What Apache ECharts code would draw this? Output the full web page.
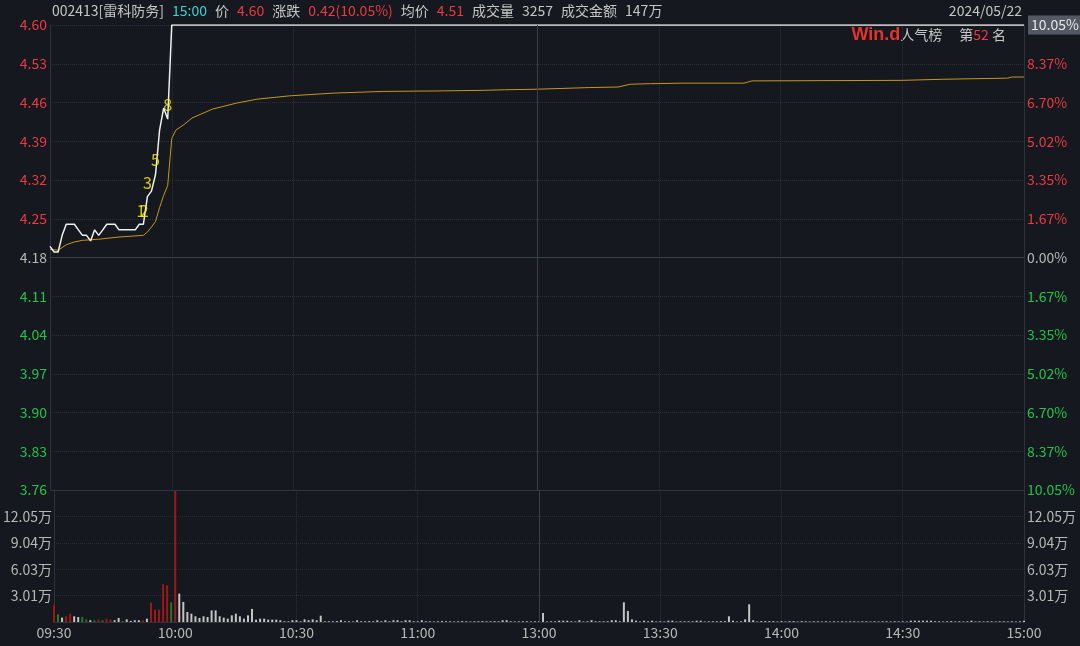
<!DOCTYPE html>
<html><head><meta charset="utf-8">
<script src="https://cdn.jsdelivr.net/npm/echarts@6/dist/echarts.min.js"></script>
<style>html,body{margin:0;padding:0;background:#15181e;}#c{width:1080px;height:646px;}</style>
</head><body><div id="c"></div>
<script>
// ---------- data ----------
const prevClose = 4.18;
const priceStep = 0.07;
const timeLabels = ['09:30','10:00','10:30','11:00','13:00','13:30','14:00','14:30','15:00'];
const priceTicks = ['4.60','4.53','4.46','4.39','4.32','4.25','4.18','4.11','4.04','3.97','3.90','3.83','3.76'];
const pctTicks = ['','8.37%','6.70%','5.02%','3.35%','1.67%','0.00%','1.67%','3.35%','5.02%','6.70%','8.37%','10.05%'];
const volTicks = ['','3.01万','6.03万','9.04万','12.05万',''];
const volMax = 15.06, volInterval = 3.012;
// minute index, price
const pricePts = [[0,4.20],[1,4.19],[2,4.19],[3,4.22],[4,4.24],[5,4.24],[6,4.24],[7,4.23],[8,4.22],[9,4.22],
 [10,4.21],[11,4.23],[12,4.22],[13,4.23],[14,4.24],[15,4.24],[16,4.24],[17,4.23],[18,4.23],[19,4.23],
 [20,4.23],[21,4.23],[22,4.24],[23,4.24],[24,4.29],[25,4.30],[26,4.33],[27,4.41],[28,4.45],[29,4.43],
 [30,4.60],[240,4.60]];
// minute index, average price
const avgPts = [[0,4.195],[2,4.193],[4,4.203],[6,4.208],[8,4.211],[12,4.213],[17,4.217],[23,4.220],[24,4.226],
 [25,4.235],[26,4.245],[27,4.270],[28,4.292],[29,4.310],[30,4.395],[31,4.410],[33,4.420],[35,4.432],[40,4.448],
 [46,4.459],[51,4.466],[59,4.472],[70,4.477],[82,4.480],[97,4.481],[107,4.482],[112,4.483],[120,4.484],
 [133,4.487],[140,4.488],[143,4.493],[148,4.494],[156,4.495],[171,4.495],[173,4.499],[210,4.500],[220,4.502],
 [236,4.504],[237,4.506],[240,4.506]];
// volume per minute (万)
const volumes = [
 1.91,0.88,0.50,0.65,0.95,0.65,0.57,0.57,0.30,0.20,
 0.20,0.30,0.20,0.38,0.30,0.20,0.46,0.12,0.30,0.12,
 0.20,0.20,0.20,0.38,2.21,1.41,1.41,4.31,4.20,2.25,
 15.00,3.24,2.29,1.14,0.95,0.65,0.46,0.65,0.57,1.33,
 1.33,0.65,0.50,0.38,0.76,0.95,0.65,0.38,0.76,1.49,
 0.27,0.38,0.38,0.27,0.27,0.27,0.20,0.08,0.08,0.20,
 0.20,0.08,0.30,0.20,0.30,0.20,0.72,0.08,0.08,0.08,
 0.10,0.20,0.08,0.08,0.06,0.20,0.08,0.08,0.10,0.08,
 0.20,0.08,0.20,0.08,0.20,0.20,0.08,0.20,0.20,0.08,
 0.08,0.20,0.08,0.08,0.06,0.08,0.10,0.08,0.08,0.06,
 0.08,0.10,0.08,0.06,0.08,0.08,0.10,0.08,0.08,0.10,
 0.08,0.20,0.20,0.08,0.06,0.08,0.08,0.08,0.06,0.08,
 0.08,1.03,0.06,0.08,0.08,0.15,0.15,0.15,0.08,0.06,
 0.20,0.06,0.08,0.20,0.08,0.08,0.08,0.08,0.20,0.20,
 0.08,2.25,1.26,0.30,0.15,0.06,0.15,0.08,0.15,0.06,
 0.08,0.06,0.15,0.15,0.06,0.08,0.08,0.08,0.08,0.15,
 0.15,0.06,0.08,0.08,0.08,0.10,0.10,0.65,0.15,0.06,
 0.08,0.30,2.02,0.20,0.06,0.10,0.10,0.10,0.10,0.06,
 0.10,0.06,0.10,0.10,0.06,0.10,0.08,0.06,0.08,0.08,
 0.06,0.08,0.06,0.08,0.06,0.08,0.06,0.08,0.08,0.06,
 0.08,0.08,0.06,0.08,0.06,0.08,0.08,0.06,0.08,0.06,
 0.08,0.06,0.15,0.15,0.15,0.15,0.15,0.15,0.08,0.08,
 0.06,0.08,0.10,0.06,0.08,0.06,0.08,0.15,0.06,0.08,
 0.06,0.08,0.08,0.06,0.08,0.08,0.06,0.08,0.06,0.08,
 0.15];
// trade markers: minute, price, label
const markers = [[22.4,4.265,'1'],[23.2,4.265,'2'],[24.0,4.314,'3'],[26.0,4.356,'5'],[29.0,4.455,'8']];
const header = [['002413[雷科防务]','g'],['15:00','c'],['价','g'],['4.60','r'],['涨跌','g'],['0.42(10.05%)','r'],
 ['均价','g'],['4.51','r'],['成交量','g'],['3257','w'],['成交金额','g'],['147万','w']];
const dateText = '2024/05/22';
const lastPctTag = '10.05%';
const rankNo = '52';

// ---------- build ----------
const toStep = p => (p - prevClose) / priceStep;
const priceData = pricePts.map(d => [d[0], toStep(d[1])]);
const avgData = avgPts.map(d => [d[0], toStep(d[1])]);
function priceAt(i){ let v = pricePts[0][1]; for (const d of pricePts){ if (d[0] <= i) v = d[1]; } return v; }
const volData = volumes.map((v,i) => {
  const cur = priceAt(i), prev = i === 0 ? prevClose : priceAt(i-1);
  const col = cur > prev ? '#9e1818' : (cur < prev ? '#1c7d22' : '#c4c4c4');
  return {value:[i, v], itemStyle:{color:col}};
});
const markerData = markers.map(m => [m[0], toStep(m[1]), m[2]]);

const FONT = '"Noto Sans CJK SC","Noto Sans",sans-serif';
const FS = 14;
const RED = '#ea3a40', GREEN = '#1fc44a', GRAY = '#b8b8b8';
const gridLine = {lineStyle:{color:'#2b2f37', type:'dotted', width:1}};
const axisLineS = {show:true, lineStyle:{color:'#2f333b'}};

const chart = echarts.init(document.getElementById('c'), null, {renderer:'canvas'});
const hs = (c) => ({fill:c,fontSize:FS,fontFamily:FONT,padding:[0,8,0,0]});
chart.setOption({
  backgroundColor:'#15181e',
  animation:false,
  textStyle:{fontFamily:FONT},
  grid:[{left:50,right:56,top:25,height:465},{left:50,right:56,top:490,height:132}],
  xAxis:[
    {gridIndex:0,type:'value',min:0,max:240,interval:30,axisLabel:{show:false},axisTick:{show:false},
     axisLine:axisLineS,splitLine:gridLine},
    {gridIndex:1,type:'value',min:0,max:240,interval:30,axisTick:{show:false},axisLine:axisLineS,splitLine:gridLine,
     axisLabel:{color:GRAY,fontSize:FS,margin:4,fontFamily:FONT,formatter:v=>timeLabels[Math.round(v/30)]}}
  ],
  yAxis:[
    {gridIndex:0,type:'value',min:-6,max:6,interval:1,position:'left',axisTick:{show:false},axisLine:axisLineS,
     splitLine:gridLine,
     axisLabel:{fontSize:FS,margin:3,fontFamily:FONT,formatter:v=>priceTicks[6-Math.round(v)],
       color:v=>v>0.01?RED:(v<-0.01?GREEN:GRAY)}},
    {gridIndex:0,type:'value',min:-6,max:6,interval:1,position:'right',axisTick:{show:false},axisLine:axisLineS,
     splitLine:{show:false},
     axisLabel:{fontSize:FS,margin:3,fontFamily:FONT,formatter:v=>pctTicks[6-Math.round(v)],
       color:v=>v>0.01?RED:(v<-0.01?GREEN:GRAY)}},
    {gridIndex:1,type:'value',min:0,max:volMax,interval:volInterval,position:'left',axisTick:{show:false},
     axisLine:axisLineS,splitLine:gridLine,
     axisLabel:{fontSize:FS,margin:2,color:GRAY,fontFamily:FONT,formatter:v=>volTicks[Math.round(v/volInterval)]||''}},
    {gridIndex:1,type:'value',min:0,max:volMax,interval:volInterval,position:'right',axisTick:{show:false},
     axisLine:axisLineS,splitLine:{show:false},
     axisLabel:{fontSize:FS,margin:3,color:GRAY,fontFamily:FONT,formatter:v=>volTicks[Math.round(v/volInterval)]||''}}
  ],
  series:[
    {type:'line',xAxisIndex:0,yAxisIndex:0,data:avgData,symbol:'none',lineStyle:{color:'#c8961c',width:1},z:3,
     markLine:{silent:true,symbol:'none',label:{show:false},
       data:[{yAxis:0,lineStyle:{color:'#3a3e46',type:'solid',width:1}},
             {yAxis:-6,lineStyle:{color:'#30343c',type:'solid',width:1}},
             {xAxis:120,lineStyle:{color:'#3c4048',type:'solid',width:1}}]}},
    {type:'line',xAxisIndex:0,yAxisIndex:0,data:priceData,symbol:'none',lineStyle:{color:'#efefef',width:1.5},z:4,
     endLabel:{show:true,formatter:lastPctTag,color:'#e8e8e8',backgroundColor:'#545862',padding:[3,3,2,3],
       fontSize:FS,fontFamily:FONT,distance:4}},
    {type:'scatter',xAxisIndex:0,yAxisIndex:0,data:markerData,symbolSize:1,itemStyle:{color:'rgba(0,0,0,0)'},z:5,
     label:{show:true,position:'inside',formatter:p=>p.data[2],color:'#fff200',fontSize:16,fontFamily:FONT}},
    {type:'bar',xAxisIndex:1,yAxisIndex:2,data:volData,barWidth:2,z:3,
     markLine:{silent:true,symbol:'none',label:{show:false},
       data:[{xAxis:120,lineStyle:{color:'#3c4048',type:'solid',width:1}}]}}
  ],
  graphic:[
    {type:'text',left:52,top:4,style:{
      text:header.map(h=>'{'+h[1]+'|'+h[0]+'}').join(''),
      rich:{g:hs('#c6c6c6'),w:hs('#c6c6c6'),r:hs(RED),c:hs('#3ad3d3')}}},
    {type:'text',right:58,top:4,style:{text:dateText,fill:'#c6c6c6',fontSize:FS,fontFamily:FONT}},
    {type:'text',right:74,top:26,style:{
      text:'{w|Win.d}{g|人气榜}{s| }{g|第}{r|'+rankNo+'}{g| 名}',
      rich:{w:{fill:'#e2342c',fontSize:18,fontWeight:'bold',fontFamily:'"Liberation Sans",sans-serif'},
            s:{fontSize:14,width:17},
            g:{fill:'#c6c6c6',fontSize:FS,fontFamily:FONT},r:{fill:RED,fontSize:FS,fontFamily:FONT}}}}
  ]
});
</script></body></html>
